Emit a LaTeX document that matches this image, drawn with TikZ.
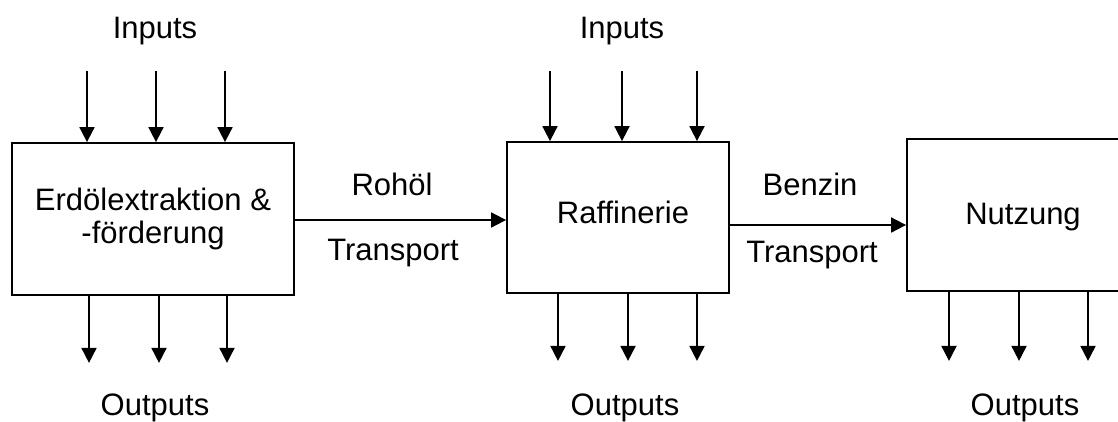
\documentclass[tikz,border=0pt]{standalone}
\usepackage{fontspec}
\setmainfont{Liberation Sans}
\usetikzlibrary{arrows.meta}
\begin{document}
\begin{tikzpicture}[x=1pt,y=-1pt,
  lbl/.style={font=\fontsize{31}{33}\selectfont, inner sep=0pt, anchor=base},
  procbox/.style={draw, line width=1.8pt, align=center, inner sep=0pt,
     font=\fontsize{31}{33}\selectfont},
  arr/.style={line width=1.8pt, -{Triangle[length=15pt,width=15pt]}}]
\useasboundingbox (0,0) rectangle (1118,421);
\node[procbox, minimum width=282pt, minimum height=152pt] (box1) at (153,219)
  {Erdölextraktion \&\\-förderung};
\node[procbox, minimum width=222pt, minimum height=151pt] (box2) at (618,217.5) {};
\node[lbl] (t2) at (623,223) {Raffinerie};
\node[procbox, minimum width=232pt, minimum height=152pt] (box3) at (1023,215) {};
\node[lbl] (t3) at (1023,224) {Nutzung};
% inputs
\foreach \x in {87,156,225} \draw[arr] (box1.north -| \x,0) ++(0,-71) -- (box1.north -| \x,0);
\foreach \x in {550,622,697} \draw[arr] (box2.north -| \x,0) ++(0,-70) -- (box2.north -| \x,0);
% outputs
\foreach \x in {89,159,227} \draw[arr] (box1.south -| \x,0) -- ++(0,67);
\foreach \x in {558,628,697} \draw[arr] (box2.south -| \x,0) -- ++(0,67);
\foreach \x in {949,1019,1088} \draw[arr] (box3.south -| \x,0) -- ++(0,69);
% connectors
\coordinate (c1) at (0,220);
\coordinate (c2) at (0,225);
\draw[arr] (box1.east |- c1) -- (box2.west |- c1);
\draw[arr] (box2.east |- c2) -- (box3.west |- c2);
% labels
\node[lbl] (in1) at (155,38) {Inputs};
\node[lbl] (in2) at (622,38) {Inputs};
\node[lbl] (out1) at (155,415) {Outputs};
\node[lbl] (out2) at (625,415) {Outputs};
\node[lbl] (out3) at (1025,415) {Outputs};
\node[lbl] (r1) at (392,195) {Rohöl};
\node[lbl] (tr1) at (393,260) {Transport};
\node[lbl] (b1) at (810,195) {Benzin};
\node[lbl] (tr2) at (812,262) {Transport};
\end{tikzpicture}
\end{document}
